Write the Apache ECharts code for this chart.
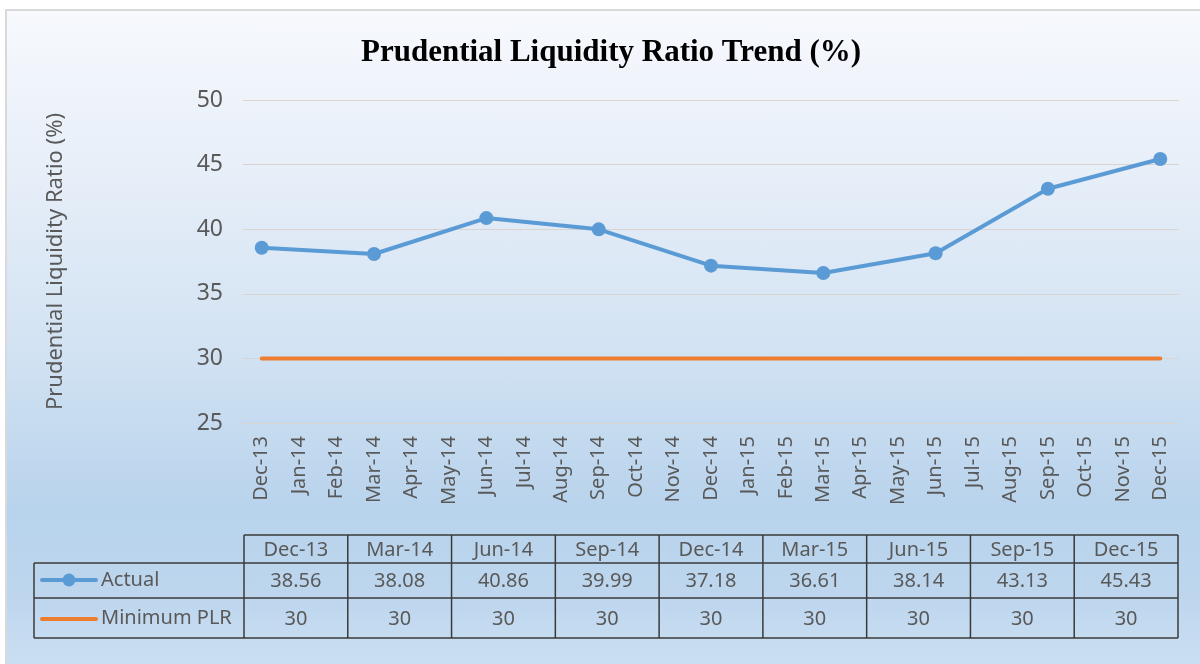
<!DOCTYPE html>
<html>
<head>
<meta charset="utf-8">
<script src="https://cdn.jsdelivr.net/npm/echarts@6/dist/echarts.min.js"></script>
<style>
  html, body { margin: 0; padding: 0; background: #fff; overflow: hidden; }
  #container {
    position: absolute; left: 5px; top: 9px;
    width: 1200px; height: 664px;
    border-left: 2px solid #d9d9d9; border-top: 2px solid #d9d9d9;
    background: linear-gradient(to bottom, #f7f9fd 0%, #e6eef8 25%, #d3e3f3 50%, #b8d3ec 75%, #bdd6ee 88%, #cde0f2 100%);
  }
</style>
</head>
<body>
<div id="container"></div>
<script>
/* PLR trend */
var months = ['Dec-13','Jan-14','Feb-14','Mar-14','Apr-14','May-14','Jun-14','Jul-14','Aug-14','Sep-14','Oct-14','Nov-14',
              'Dec-14','Jan-15','Feb-15','Mar-15','Apr-15','May-15','Jun-15','Jul-15','Aug-15','Sep-15','Oct-15','Nov-15','Dec-15'];
var quarters = ['Dec-13','Mar-14','Jun-14','Sep-14','Dec-14','Mar-15','Jun-15','Sep-15','Dec-15'];
var actual = [38.56, 38.08, 40.86, 39.99, 37.18, 36.61, 38.14, 43.13, 45.43];
var minimumPLR = [30, 30, 30, 30, 30, 30, 30, 30, 30];
var yTicks = { min: 25, max: 50, interval: 5 };

var BLUE = '#5B9BD5', ORANGE = '#ED7D31', TXT = '#595959';
var FONT = '"Noto Sans", sans-serif';

// quarterly values placed on the monthly axis
var actualMonthly = months.map(function (m) {
    var i = quarters.indexOf(m);
    return i >= 0 ? actual[i] : null;
});
var minMonthly = months.map(function () { return minimumPLR[0]; });

var dom = document.getElementById("container");
var myChart = echarts.init(dom);

var gridLeft = 236, gridRight = 28, chartW = 1200;
var tx0 = gridLeft + 1, tx1 = chartW - gridRight - 1;
var colW = (tx1 - tx0) / quarters.length;
var legX = 27;
var yH0 = 524, yH1 = 552, yR1 = 587, yR2 = 627;

// data table built from the arrays
var table = [];
var lineStyle = { stroke: '#3a3a3a', lineWidth: 1.5 };
function hline(x1, x2, y) {
    table.push({ type: 'line', shape: { x1: x1, y1: y, x2: x2, y2: y }, style: lineStyle, z: 10 });
}
function vline(x, y1, y2) {
    table.push({ type: 'line', shape: { x1: x, y1: y1, x2: x, y2: y2 }, style: lineStyle, z: 10 });
}
function cell(text, x, y, align) {
    table.push({ type: 'text', x: x, y: y, z: 10,
        style: { text: text, fill: TXT, font: '20px ' + FONT, align: align || 'center', verticalAlign: 'middle' } });
}
hline(tx0, tx1, yH0);
hline(legX, tx1, yH1);
hline(legX, tx1, yR1);
hline(legX, tx1, yR2);
for (var i = 0; i <= quarters.length; i++) vline(tx0 + i * colW, yH0, yR2);
vline(legX, yH1, yR2);
quarters.forEach(function (q, i) {
    var cx = tx0 + (i + 0.5) * colW;
    cell(q, cx, (yH0 + yH1) / 2 + 1);
    cell(String(actual[i]), cx, (yH1 + yR1) / 2 + 1);
    cell(String(minimumPLR[i]), cx, (yR1 + yR2) / 2 + 1);
});
// legend keys
table.push({ type: 'line', shape: { x1: 35, y1: 569, x2: 89, y2: 569 }, style: { stroke: BLUE, lineWidth: 4, lineCap: 'round' }, z: 10 });
table.push({ type: 'circle', shape: { cx: 62, cy: 569, r: 6.5 }, style: { fill: BLUE }, z: 10 });
table.push({ type: 'line', shape: { x1: 35, y1: 608, x2: 89, y2: 608 }, style: { stroke: ORANGE, lineWidth: 4, lineCap: 'round' }, z: 10 });
cell('Actual', 94, (yH1 + yR1) / 2, 'left');
cell('Minimum PLR', 94, (yR1 + yR2) / 2, 'left');

var option = {
    backgroundColor: 'transparent',
    animation: false,
    title: {
        text: 'Prudential Liquidity Ratio Trend (%)',
        left: 599, top: 21, textAlign: 'center',
        textStyle: { fontFamily: '"Liberation Serif", serif', fontWeight: 'bold', fontSize: 31, color: '#000' }
    },
    grid: { left: gridLeft, right: gridRight, top: 89, bottom: 252 },
    xAxis: {
        type: 'category',
        data: months,
        boundaryGap: true,
        axisLine: { show: false },
        axisTick: { show: false },
        axisLabel: { rotate: 90, interval: 0, margin: 13, color: TXT, fontSize: 20, fontFamily: FONT }
    },
    yAxis: {
        type: 'value',
        min: yTicks.min, max: yTicks.max, interval: yTicks.interval,
        name: 'Prudential Liquidity Ratio (%)',
        nameLocation: 'middle', nameRotate: 90, nameGap: 176,
        nameTextStyle: { color: TXT, fontSize: 22, fontFamily: FONT },
        axisLine: { show: false },
        axisTick: { show: false },
        axisLabel: { margin: 20, color: TXT, fontSize: 23, fontFamily: FONT },
        splitLine: { lineStyle: { color: '#d9d4d0', width: 1 } }
    },
    series: [
        {
            name: 'Actual',
            type: 'line',
            data: actualMonthly,
            connectNulls: true,
            symbol: 'circle',
            symbolSize: 14,
            itemStyle: { color: BLUE },
            lineStyle: { color: BLUE, width: 4 },
            z: 3
        },
        {
            name: 'Minimum PLR',
            type: 'line',
            data: minMonthly,
            symbol: 'none',
            lineStyle: { color: ORANGE, width: 4, cap: 'round' },
            z: 2
        }
    ],
    graphic: table
};
myChart.setOption(option, true);
</script>
</body>
</html>
